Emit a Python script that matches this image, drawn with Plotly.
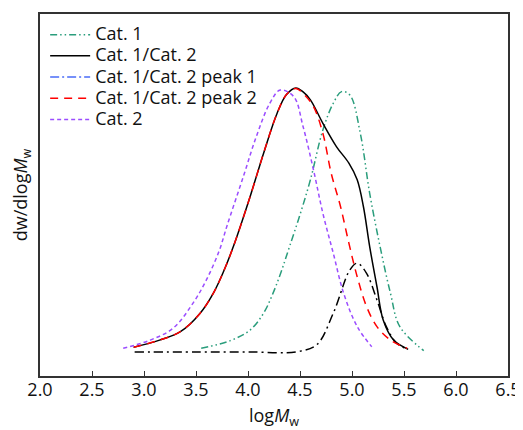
import plotly.graph_objects as go

# Cat. 1 (green)
cat1_x = [3.55, 3.83, 4.02, 4.15, 4.24, 4.32, 4.40, 4.50, 4.60, 4.72, 4.82, 4.90, 4.98, 5.08, 5.17, 5.27, 5.37, 5.46, 5.69]
cat1_y = [0.014, 0.043, 0.083, 0.147, 0.222, 0.305, 0.400, 0.520, 0.652, 0.841, 0.942, 0.986, 0.973, 0.828, 0.601, 0.399, 0.222, 0.096, 0.005]

# Cat. 1/Cat. 2 (black solid)
mix_x = [2.90, 3.15, 3.35, 3.54, 3.67, 3.76, 3.86, 4.02, 4.15, 4.28, 4.37, 4.46, 4.53, 4.60, 4.72, 4.85, 4.97, 5.05, 5.11, 5.17, 5.24, 5.30, 5.40, 5.54]
mix_y = [0.018, 0.045, 0.077, 0.147, 0.225, 0.300, 0.400, 0.588, 0.753, 0.904, 0.975, 1.0, 0.985, 0.955, 0.866, 0.778, 0.715, 0.652, 0.550, 0.399, 0.247, 0.121, 0.045, 0.010]

# Peak 1 (drawn black dash-dot)
p1_x = [2.91, 3.50, 4.00, 4.47, 4.66, 4.82, 4.98, 5.05, 5.14, 5.24, 5.33, 5.43, 5.54]
p1_y = [0.0, 0.0, 0.0, 0.001, 0.027, 0.147, 0.311, 0.336, 0.298, 0.197, 0.096, 0.033, 0.010]

# Peak 2 (red dashed)
p2_x = [2.90, 3.15, 3.35, 3.54, 3.67, 3.76, 3.86, 4.02, 4.15, 4.28, 4.37, 4.46, 4.54, 4.63, 4.72, 4.80, 4.89, 4.97, 5.05, 5.14, 5.24, 5.37, 5.53]
p2_y = [0.018, 0.045, 0.077, 0.147, 0.225, 0.300, 0.400, 0.588, 0.753, 0.904, 0.975, 0.998, 0.975, 0.929, 0.828, 0.677, 0.550, 0.412, 0.285, 0.172, 0.096, 0.045, 0.014]

# Cat. 2 (purple short dash)
cat2_x = [2.80, 3.06, 3.28, 3.47, 3.60, 3.72, 3.80, 3.96, 4.08, 4.21, 4.31, 4.44, 4.53, 4.63, 4.72, 4.82, 4.92, 5.05, 5.19]
cat2_y = [0.014, 0.045, 0.090, 0.184, 0.273, 0.380, 0.480, 0.670, 0.816, 0.942, 0.992, 0.967, 0.853, 0.689, 0.525, 0.374, 0.222, 0.096, 0.020]

x_ticks = [2.0, 2.5, 3.0, 3.5, 4.0, 4.5, 5.0, 5.5, 6.0, 6.5]

def lg(name):
    return f'<span style="font-size:18px">{name}</span>'

fig = go.Figure()
fig.add_trace(go.Scatter(x=cat1_x, y=cat1_y, mode="lines", name=lg("Cat. 1"),
                         line=dict(color="#2a9d7c", width=1.5, dash="7px,3px,1.5px,3px,1.5px,3px", shape="spline")))
fig.add_trace(go.Scatter(x=mix_x, y=mix_y, mode="lines", name=lg("Cat. 1/Cat. 2"),
                         line=dict(color="#000000", width=1.5, shape="spline")))
fig.add_trace(go.Scatter(x=[None], y=[None], mode="lines", name=lg("Cat. 1/Cat. 2 peak 1"),
                         line=dict(color="#4a6cf7", width=1.5, dash="9px,3px,2px,3px")))
fig.add_trace(go.Scatter(x=p1_x, y=p1_y, mode="lines", showlegend=False,
                         line=dict(color="#000000", width=1.5, dash="9px,4px,2px,4px", shape="spline")))
fig.add_trace(go.Scatter(x=p2_x, y=p2_y, mode="lines", name=lg("Cat. 1/Cat. 2 peak 2"),
                         line=dict(color="#ff0000", width=1.5, dash="8px,6px", shape="spline")))
fig.add_trace(go.Scatter(x=cat2_x, y=cat2_y, mode="lines", name=lg("Cat. 2"),
                         line=dict(color="#9b4dff", width=1.5, dash="4px,3px", shape="spline")))

# The page body has an 8px margin, so the figure is 8px smaller than the window
fig.update_layout(
    width=515, height=422,
    margin=dict(l=32, r=15, t=6, b=54),
    paper_bgcolor="white", plot_bgcolor="white",
    font=dict(family="Open Sans", size=18, color="#111111"),
    showlegend=True,
    legend=dict(x=0.011, y=0.986, xanchor="left", yanchor="top", bgcolor="rgba(0,0,0,0)",
                font=dict(size=14), tracegroupgap=0, itemwidth=40),
    xaxis=dict(range=[2.0, 6.5], tickvals=x_ticks, ticktext=[f"{v:.1f}" for v in x_ticks],
               ticks="inside", ticklen=5, tickcolor="#333333", showline=True, linecolor="#333333",
               linewidth=1.5, mirror=True, showgrid=False, zeroline=False, automargin=False,
               tickfont=dict(size=18), ticklabelstandoff=-3,
               title=dict(text="log<i>M</i><sub>w</sub>", standoff=9, font=dict(size=18))),
    yaxis=dict(range=[-0.091, 1.28], showticklabels=False, ticks="", showline=True,
               linecolor="#333333", linewidth=1.5, mirror=True, showgrid=False, zeroline=False,
               automargin=False,
               title=dict(text="dw/dlog<i>M</i><sub>w</sub>", standoff=9, font=dict(size=18))),
)

fig.write_html("out.html")
